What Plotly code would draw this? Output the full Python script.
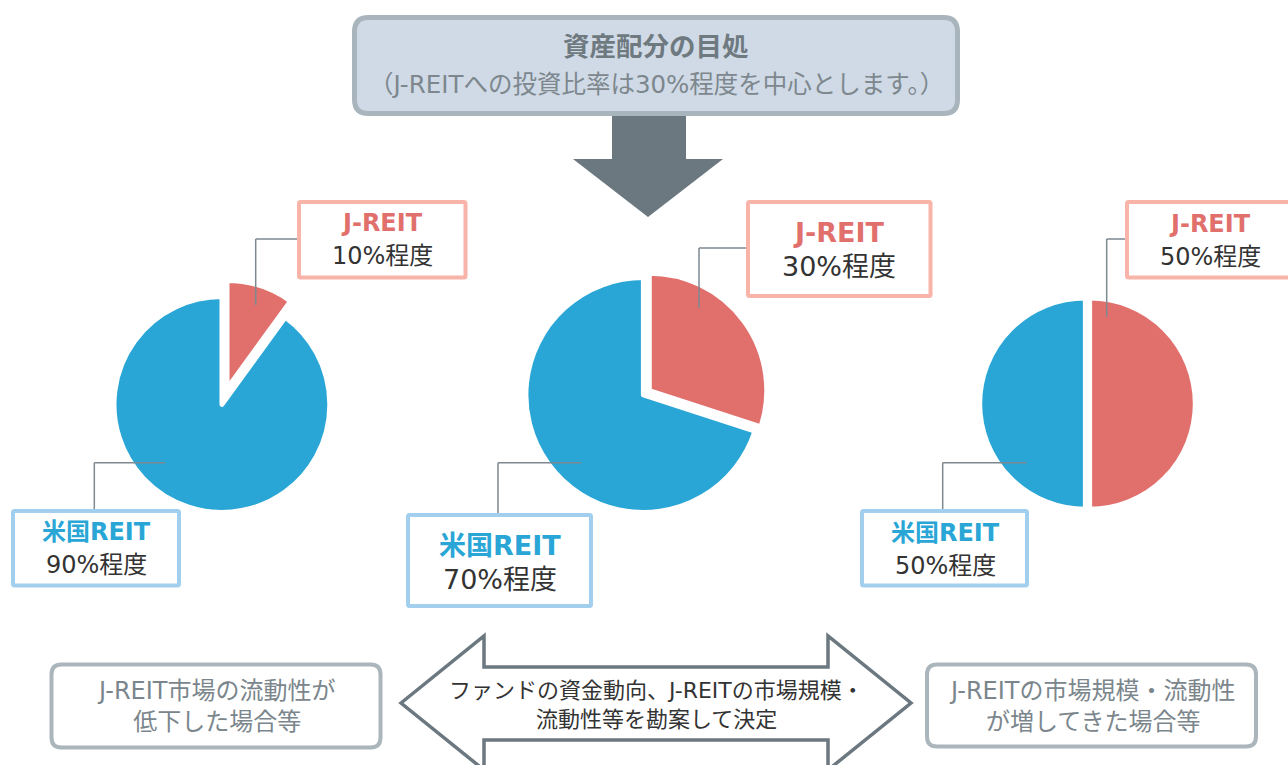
import plotly.graph_objects as go

# ---------------- data ----------------
categories = ["J-REIT", "米国REIT"]
jreit_share = [10, 30, 50]          # J-REIT allocation (%) per scenario
usreit_share = [90, 70, 50]         # 米国REIT allocation (%) per scenario
value_suffix = "%程度"

title_text = "資産配分の目処"
subtitle_text = "（J-REITへの投資比率は30%程度を中心とします。）"
left_note = ["J-REIT市場の流動性が", "低下した場合等"]
right_note = ["J-REITの市場規模・流動性", "が増してきた場合等"]
center_note = ["ファンドの資金動向、J-REITの市場規模・", "流動性等を勘案して決定"]

# ---------------- styles ----------------
W, H = 1288, 765
FONT = "DejaVu Sans, Noto Sans CJK JP"
RED = "#E1706D"
BLUE = "#29A6D6"
RED_BORDER = "#F9B4A9"
BLUE_BORDER = "#A3CFEE"
GRAY_BORDER = "#ABB6BC"
GRAY_TEXT = "#7B868C"
DARK = "#6B7880"
VAL_TEXT = "#333333"

# pie geometry (centre x, centre y, radius, pull of J-REIT, pull of 米国REIT)
pie_geo = [
    (221.9, 404.5, 107.8, 0.157, 0.0),
    (643.3, 395.0, 117.3, 0.064, 0.0),
    (1087.5, 403.7, 105.5, 0.021, 0.021),
]

fig = go.Figure()

for (cx, cy, r, pj, pu), vj, vu in zip(pie_geo, jreit_share, usreit_share):
    S = 2 * r * (1 + max(pj, pu))
    fig.add_trace(go.Pie(
        labels=categories,
        values=[vj, vu],
        sort=False,
        direction="clockwise",
        rotation=0,
        pull=[pj, pu],
        marker=dict(colors=[RED, BLUE], line=dict(color="white", width=4.8)),
        textinfo="none",
        hoverinfo="label+percent",
        showlegend=False,
        domain=dict(x=[(cx - S / 2) / W, (cx + S / 2) / W],
                    y=[1 - (cy + S / 2) / H, 1 - (cy - S / 2) / H]),
    ))

shapes = []


def rrect(x0, y0, x1, y1, rad):
    return (f"M{x0+rad},{y0} L{x1-rad},{y0} Q{x1},{y0} {x1},{y0+rad} "
            f"L{x1},{y1-rad} Q{x1},{y1} {x1-rad},{y1} L{x0+rad},{y1} "
            f"Q{x0},{y1} {x0},{y1-rad} L{x0},{y0+rad} Q{x0},{y0} {x0+rad},{y0} Z")


def add_path(path, fill, line_color, lw):
    shapes.append(dict(type="path", xref="x", yref="y", path=path,
                       fillcolor=fill, line=dict(color=line_color, width=lw)))


def add_line(x0, y0, x1, y1, color="#7D8890", lw=1.5):
    shapes.append(dict(type="line", xref="x", yref="y", x0=x0, y0=y0, x1=x1, y1=y1,
                       line=dict(color=color, width=lw)))


# down arrow
add_path("M612,114 L686,114 L686,159 L723,159 L648,217 L573,159 L612,159 Z", DARK, DARK, 0)
# top box
add_path(rrect(354.5, 17.5, 957.5, 113.5, 14), "#CFDAE6", "#A9B5BC", 5)

# bottom double arrow
add_path("M401,703 L484,636 L484,667 L828,667 L828,636 L911,703 L828,770 L828,740 "
         "L484,740 L484,770 Z", "white", DARK, 3.5)
# bottom grey boxes
add_path(rrect(51.5, 664.5, 380.5, 747.5, 10), "white", GRAY_BORDER, 4)
add_path(rrect(927, 664.5, 1256, 746.5, 10), "white", GRAY_BORDER, 4)

# label boxes: (x0,y0,x1,y1)
j_boxes = [(299, 202, 465.5, 277.5), (748, 202, 930.5, 296), (1127, 202, 1294, 277.5)]
u_boxes = [(13, 511, 179, 585.5), (408, 515, 591, 606), (862, 511, 1027, 585.5)]
for b in j_boxes:
    add_path(rrect(*b, 1.5), "white", RED_BORDER, 4)
for b in u_boxes:
    add_path(rrect(*b, 1.5), "white", BLUE_BORDER, 4)

# leader lines
j_leaders = [(297, 239, 255.7, 305), (746, 248, 699, 308), (1125, 239, 1106.7, 317)]
u_leaders = [(94.3, 509, 165, 462.7), (498, 513, 581, 462.7), (942.7, 509, 1026.7, 462.7)]
for (bx, by, vx, vy) in j_leaders:
    add_line(bx, by, vx, by)
    add_line(vx, by, vx, vy)
for (vx, by, hx, hy) in u_leaders:
    add_line(vx, by, vx, hy)
    add_line(vx, hy, hx, hy)

annotations = []


def txt(x, y, s, size, color, bold=False):
    annotations.append(dict(x=x, y=y, xref="x", yref="y", text=f"<b>{s}</b>" if bold else s,
                            showarrow=False, xanchor="center", yanchor="middle",
                            font=dict(family=FONT, size=size, color=color)))


txt(656, 46, title_text, 26.5, "#6E7980", bold=True)
txt(656, 84, subtitle_text, 24.5, "#7D878D")

# pie labels: x, y of category line, y of value line, font size
j_text_pos = [(382, 223, 256, 24), (839, 232, 266, 27), (1210, 224, 257, 24)]
u_text_pos = [(96, 532, 565, 24), (500, 545, 579, 27), (945, 533, 566, 24)]
for (x, y1, y2, fs), v in zip(j_text_pos, jreit_share):
    txt(x, y1, categories[0], fs, RED, bold=True)
    txt(x, y2, f"{v}{value_suffix}", fs, VAL_TEXT)
for (x, y1, y2, fs), v in zip(u_text_pos, usreit_share):
    txt(x, y1, categories[1], fs, BLUE, bold=True)
    txt(x, y2, f"{v}{value_suffix}", fs, VAL_TEXT)

txt(216, 706, "<br>".join(left_note), 24, GRAY_TEXT)
txt(1091.5, 706, "<br>".join(right_note), 24, GRAY_TEXT)
txt(656, 690, center_note[0], 22, "#333333")
txt(656, 719, center_note[1], 22, "#333333")

fig.update_layout(
    width=W, height=H,
    margin=dict(l=0, r=0, t=0, b=0),
    paper_bgcolor="white", plot_bgcolor="white",
    xaxis=dict(range=[0, W], visible=False, fixedrange=True),
    yaxis=dict(range=[H, 0], visible=False, fixedrange=True),
    shapes=shapes,
    annotations=annotations,
    showlegend=False,
)

fig.write_html("out.html", config={"displayModeBar": False},
               post_script="document.body.style.margin='0';document.body.style.overflow='hidden';")
